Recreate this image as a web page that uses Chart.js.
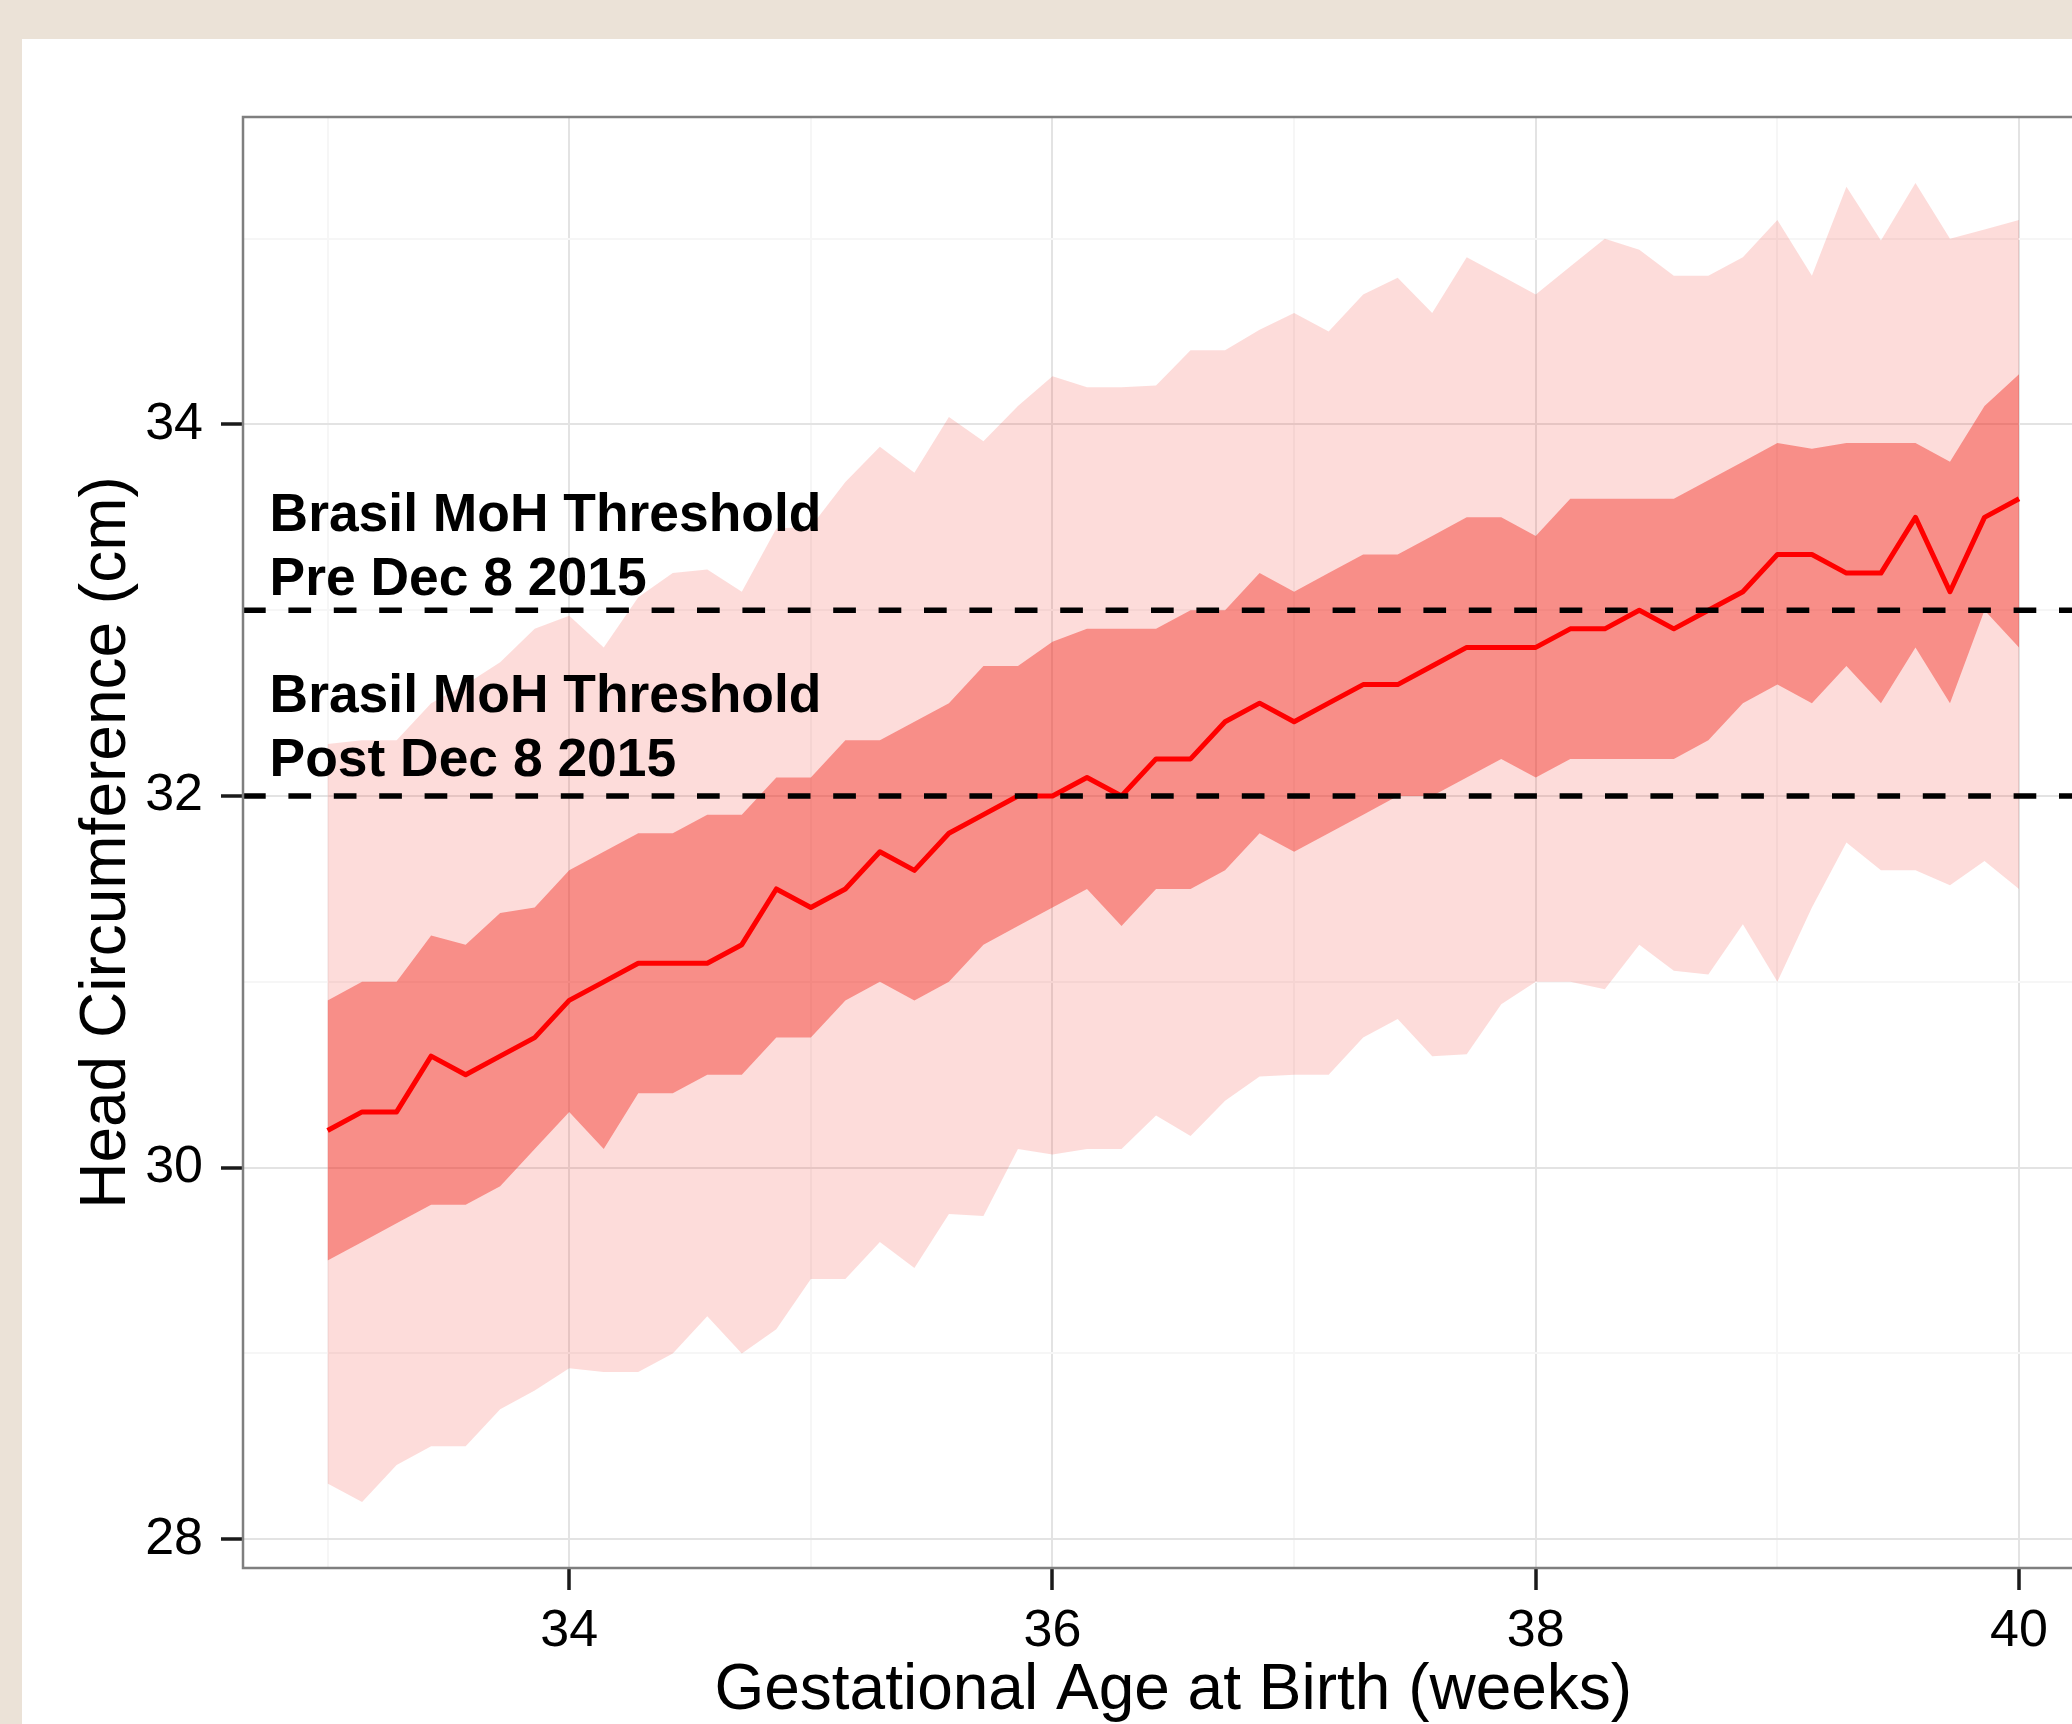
<!DOCTYPE html>
<html><head><meta charset="utf-8">
<script src="https://cdn.jsdelivr.net/npm/chart.js@4.4.1/dist/chart.umd.min.js"></script>
<style>
html,body{margin:0;padding:0;width:2072px;height:1724px;overflow:hidden;background:#EBE2D7;}
#panel{position:absolute;left:22px;top:39px;width:2100px;height:1700px;background:#ffffff;}
canvas{display:block;}
</style></head><body>
<div id="panel"><canvas id="c" width="2100" height="1700"></canvas></div>
<script>
// gestational age at birth, in days (x = days / 7 weeks)
const gestDays = [231,232,233,234,235,236,237,238,239,240,241,242,243,244,245,246,247,248,249,250,251,252,253,254,255,256,257,258,259,260,261,262,263,264,265,266,267,268,269,270,271,272,273,274,275,276,277,278,279,280];
const median = [30.2,30.3,30.3,30.6,30.5,30.6,30.7,30.9,31.0,31.1,31.1,31.1,31.2,31.5,31.4,31.5,31.7,31.6,31.8,31.9,32.0,32.0,32.1,32.0,32.2,32.2,32.4,32.5,32.4,32.5,32.6,32.6,32.7,32.8,32.8,32.8,32.9,32.9,33.0,32.9,33.0,33.1,33.3,33.3,33.2,33.2,33.5,33.1,33.5,33.6];
const innerHigh = [30.9,31.0,31.0,31.25,31.2,31.37,31.4,31.6,31.7,31.8,31.8,31.9,31.9,32.1,32.1,32.3,32.3,32.4,32.5,32.7,32.7,32.83,32.9,32.9,32.9,33.0,33.0,33.2,33.1,33.2,33.3,33.3,33.4,33.5,33.5,33.4,33.6,33.6,33.6,33.6,33.7,33.8,33.9,33.87,33.9,33.9,33.9,33.8,34.1,34.27];
const innerLow = [29.5,29.6,29.7,29.8,29.8,29.9,30.1,30.3,30.1,30.4,30.4,30.5,30.5,30.7,30.7,30.9,31.0,30.9,31.0,31.2,31.3,31.4,31.5,31.3,31.5,31.5,31.6,31.8,31.7,31.8,31.9,32.0,32.0,32.1,32.2,32.1,32.2,32.2,32.2,32.2,32.3,32.5,32.6,32.5,32.7,32.5,32.8,32.5,33.0,32.8];
const outerHigh = [32.28,32.30,32.30,32.50,32.60,32.72,32.90,32.97,32.80,33.07,33.20,33.22,33.10,33.44,33.45,33.69,33.88,33.74,34.04,33.91,34.10,34.26,34.20,34.20,34.21,34.40,34.40,34.51,34.60,34.50,34.70,34.79,34.60,34.90,34.80,34.70,34.85,35.00,34.94,34.80,34.80,34.90,35.10,34.80,35.28,34.99,35.30,35.00,35.05,35.10];
const outerLow = [28.3,28.2,28.4,28.5,28.5,28.7,28.8,28.92,28.9,28.9,29.0,29.2,29.0,29.13,29.4,29.4,29.6,29.46,29.75,29.74,30.1,30.07,30.1,30.1,30.28,30.17,30.36,30.49,30.5,30.5,30.7,30.8,30.6,30.61,30.88,31.0,31.0,30.96,31.2,31.06,31.04,31.31,31.0,31.4,31.75,31.6,31.6,31.52,31.65,31.5];

const xMajorTicks = [34,36,38,40];
const xMinorTicks = [33,35,37,39];
const yMajorTicks = [28,30,32,34];
const yMinorTicks = [29,31,33,35];
const xRange = [32.65, 40.35];
const yRange = [27.845, 35.655];

const thresholds = [33, 32];
const annotationLines = [["Brasil MoH Threshold","Pre Dec 8 2015"],["Brasil MoH Threshold","Post Dec 8 2015"]];
const annotationAnchors = [{x:32.76, y:33.425},{x:32.76, y:32.45}];

const xTitle = "Gestational Age at Birth (weeks)";
const yTitle = "Head Circumference (cm)";

const FONT = "'Liberation Sans', Arial, Helvetica, sans-serif";

function pts(arr){ return gestDays.map((d,i)=>({x:d/7, y:arr[i]})); }

function tickSet(major, minor){ return major.concat(minor).sort((a,b)=>a-b).map(v=>({value:v})); }

const overlay = {
  id:'overlay',
  afterDatasetsDraw(chart){
    const {ctx, chartArea:a, scales:{x,y}} = chart;
    ctx.save();
    ctx.beginPath(); ctx.rect(a.left, a.top, a.right-a.left, a.bottom-a.top); ctx.clip();
    ctx.strokeStyle='#000'; ctx.lineWidth=5.5; ctx.setLineDash([22.7,22.7]); ctx.lineCap='butt';
    thresholds.forEach(v=>{ const py=y.getPixelForValue(v); ctx.beginPath(); ctx.moveTo(a.left,py); ctx.lineTo(a.right,py); ctx.stroke(); });
    ctx.setLineDash([]);
    ctx.fillStyle='#000'; ctx.font='bold 53.4px '+FONT; ctx.textAlign='left'; ctx.textBaseline='alphabetic';
    annotationLines.forEach((lines,k)=>{
      const px=x.getPixelForValue(annotationAnchors[k].x), py=y.getPixelForValue(annotationAnchors[k].y);
      lines.forEach((t,j)=>ctx.fillText(t, px, py + j*63.6));
    });
    ctx.restore();
  },
  afterDraw(chart){
    const {ctx, chartArea:a} = chart;
    ctx.save(); ctx.strokeStyle='#7F7F7F'; ctx.lineWidth=2.5;
    ctx.strokeRect(a.left, a.top, a.right-a.left, a.bottom-a.top);
    ctx.restore();
  }
};

const gridColor = major => ctx => (ctx.tick && major.includes(ctx.tick.value)) ? '#E3E3E3' : '#F6F6F6';
const tickColor = major => ctx => (ctx.tick && major.includes(ctx.tick.value)) ? '#1a1a1a' : 'rgba(0,0,0,0)';

new Chart(document.getElementById('c'), {
  type:'line',
  data:{datasets:[
    {data:pts(median), borderColor:'#FF0000', borderWidth:5, fill:false, pointRadius:0, tension:0, borderJoinStyle:'round'},
    {data:pts(innerHigh), borderColor:'rgba(0,0,0,0)', borderWidth:0, pointRadius:0, tension:0, fill:'+1', backgroundColor:'rgba(241,47,36,0.45)'},
    {data:pts(innerLow), borderColor:'rgba(0,0,0,0)', borderWidth:0, pointRadius:0, tension:0, fill:false},
    {data:pts(outerHigh), borderColor:'rgba(0,0,0,0)', borderWidth:0, pointRadius:0, tension:0, fill:'+1', backgroundColor:'rgba(244,58,46,0.175)'},
    {data:pts(outerLow), borderColor:'rgba(0,0,0,0)', borderWidth:0, pointRadius:0, tension:0, fill:false}
  ]},
  options:{
    responsive:false, animation:false, devicePixelRatio:1,
    layout:{padding:{top:78, right:18.4, left:0, bottom:0}},
    plugins:{legend:{display:false}, tooltip:{enabled:false}},
    scales:{
      x:{type:'linear', min:xRange[0], max:xRange[1],
        afterBuildTicks:s=>{ s.ticks = tickSet(xMajorTicks, xMinorTicks); },
        afterFit:s=>{ s.height = 1700-1529; },
        border:{display:false},
        grid:{color:gridColor(xMajorTicks), lineWidth:2, tickLength:22, tickWidth:3.5, tickColor:tickColor(xMajorTicks)},
        ticks:{autoSkip:false, maxRotation:0, padding:10, color:'#000', font:{family:FONT, size:52},
          callback:v=> xMajorTicks.includes(v) ? String(v) : ''},
        title:{display:true, text:xTitle, color:'#000', font:{family:FONT, size:64}, padding:{top:0, bottom:9}}
      },
      y:{type:'linear', min:yRange[0], max:yRange[1],
        afterBuildTicks:s=>{ s.ticks = tickSet(yMajorTicks, yMinorTicks); },
        afterFit:s=>{ s.width = 221; },
        border:{display:false},
        grid:{color:gridColor(yMajorTicks), lineWidth:2, tickLength:22, tickWidth:3.5, tickColor:tickColor(yMajorTicks)},
        ticks:{autoSkip:false, padding:18, color:'#000', font:{family:FONT, size:52},
          callback:v=> yMajorTicks.includes(v) ? String(v) : ''},
        title:{display:true, text:yTitle, color:'#000', font:{family:FONT, size:64}, padding:{top:47, bottom:0}}
      }
    }
  },
  plugins:[overlay]
});
</script>
</body></html>
